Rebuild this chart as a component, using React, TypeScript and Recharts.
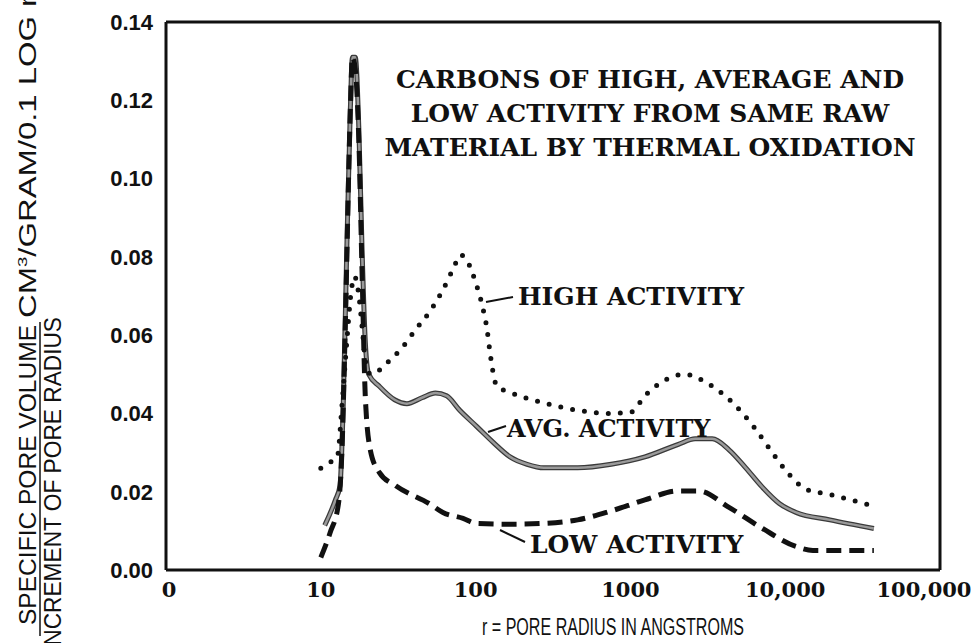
import React from 'react';
import { LineChart, Line, XAxis, YAxis } from 'recharts';

// pore radius (angstroms) and pore volume per 0.1 log r
const highR = [10, 11.5, 12.8, 13.7, 14.7, 15.7, 16.5, 17.5, 18.5, 19.5, 21, 27.6, 33.8, 41.3, 50.5, 61.7, 71.8, 80, 88, 101, 112, 118, 124, 129, 137, 167, 276, 456, 752, 1016, 1240, 1590, 2260, 3055, 4335, 6150, 8320, 10670, 13700, 19450, 35500];
const highV = [0.026, 0.0275, 0.029, 0.042, 0.058, 0.071, 0.075, 0.071, 0.062, 0.053, 0.05, 0.0534, 0.057, 0.0616, 0.066, 0.0717, 0.077, 0.0805, 0.079, 0.073, 0.0665, 0.062, 0.0555, 0.051, 0.047, 0.0454, 0.0427, 0.0408, 0.04, 0.0404, 0.0445, 0.048, 0.05, 0.048, 0.0436, 0.037, 0.0298, 0.0243, 0.0206, 0.0193, 0.0165];

const avgR = [10.6, 12.4, 13.3, 14.0, 14.7, 15.5, 16.0, 16.7, 17.6, 18.5, 19.4, 20.4, 23.8, 30, 36, 45, 55, 65, 79, 101.5, 130, 167, 215, 276, 456, 752, 1240, 2040, 2620, 3380, 4335, 5560, 7140, 9160, 11750, 19450, 37400];
const avgV = [0.0114, 0.0178, 0.0215, 0.044, 0.081, 0.117, 0.131, 0.131, 0.113, 0.081, 0.058, 0.05, 0.047, 0.0435, 0.0425, 0.044, 0.0452, 0.0445, 0.0408, 0.0367, 0.0326, 0.0289, 0.027, 0.0261, 0.0261, 0.027, 0.0289, 0.0321, 0.0335, 0.0335, 0.0307, 0.0261, 0.0211, 0.017, 0.0147, 0.0128, 0.0106];

const lowR = [10, 11.5, 13.0, 13.7, 14.4, 15.5, 16.0, 16.7, 17.6, 18.5, 19.4, 20.9, 23.8, 30.5, 50.5, 61.5, 83, 101, 167, 276, 456, 752, 1240, 2040, 2760, 4335, 7140, 11750, 15100, 37400];
const lowV = [0.0032, 0.0096, 0.0169, 0.0306, 0.0626, 0.117, 0.131, 0.128, 0.11, 0.075, 0.044, 0.0306, 0.025, 0.0215, 0.0169, 0.0147, 0.0132, 0.0119, 0.0117, 0.0119, 0.0128, 0.0151, 0.0179, 0.0202, 0.0202, 0.016, 0.0106, 0.006, 0.005, 0.005];

const xTicks = [1, 10, 100, 1000, 10000, 100000];
const xTickLabels = ['0', '10', '100', '1000', '10,000', '100,000'];
const yTicks = [0, 0.02, 0.04, 0.06, 0.08, 0.1, 0.12, 0.14];

const titleLines = ['CARBONS OF HIGH, AVERAGE AND', 'LOW ACTIVITY FROM SAME RAW', 'MATERIAL BY THERMAL OXIDATION'];

const toRows = (rs: number[], vs: number[]) => rs.map((r, i) => ({ r, v: vs[i] }));
const high = toRows(highR, highV);
const avg = toRows(avgR, avgV);
const low = toRows(lowR, lowV);

const serif = '"DejaVu Serif", serif';
const sans = '"Liberation Sans", Arial, sans-serif';

const XTick = (props: any) => {
  const { x, y, payload } = props;
  const i = xTicks.indexOf(payload.value);
  const shift = i === xTicks.length - 1 ? -16 : i === 0 ? 3 : 0;
  return (
    <text x={x + shift} y={y} dy={21} textAnchor="middle" fontFamily={serif} fontWeight="bold" fontSize={21} fill="#111">
      {xTickLabels[i]}
    </text>
  );
};

const frame = { stroke: '#111', strokeWidth: 3 };
const tickLn = { stroke: '#111', strokeWidth: 2 };

export default function App() {
  return (
    <div style={{ position: 'absolute', left: 0, top: 0, width: 974, height: 643, background: '#fff' }}>
      <LineChart width={974} height={643} data={avg} margin={{ top: 22, right: 34, bottom: 72, left: 165 }}>
        <XAxis xAxisId="b" type="number" scale="log" dataKey="r" domain={[1, 100000]} allowDataOverflow ticks={xTicks}
          height={1} axisLine={frame} tickLine={false} tickSize={0} tickMargin={6} tick={<XTick />} interval={0} />
        <XAxis xAxisId="bt" type="number" scale="log" dataKey="r" domain={[1, 100000]} allowDataOverflow ticks={xTicks}
          height={1} mirror axisLine={false} tickLine={tickLn} tickSize={12} tick={false} interval={0} />
        <XAxis xAxisId="t" orientation="top" type="number" scale="log" dataKey="r" domain={[1, 100000]} allowDataOverflow ticks={xTicks}
          height={1} mirror axisLine={frame} tickLine={tickLn} tickSize={12} tick={false} interval={0} />
        <YAxis yAxisId="l" type="number" domain={[0, 0.14]} ticks={yTicks} width={1} axisLine={frame} tickLine={false}
          tickSize={0} tickMargin={13} interval={0} tickFormatter={(v: number) => v.toFixed(2)}
          tick={{ fontFamily: sans, fontWeight: 'bold', fontSize: 22, fill: '#111' }} />
        <YAxis yAxisId="lt" type="number" domain={[0, 0.14]} ticks={yTicks} width={1} mirror axisLine={false}
          tickLine={tickLn} tickSize={12} tick={false} interval={0} />
        <YAxis yAxisId="r" orientation="right" type="number" domain={[0, 0.14]} ticks={yTicks} width={1} mirror
          axisLine={frame} tickLine={tickLn} tickSize={9} tick={false} interval={0} />
        <Line xAxisId="b" yAxisId="l" data={avg} dataKey="v" type="monotone" stroke="#3a3a3a" strokeWidth={5} dot={false} isAnimationActive={false} />
        <Line xAxisId="b" yAxisId="l" data={avg} dataKey="v" type="monotone" stroke="#9a9a9a" strokeWidth={2.5} dot={false} isAnimationActive={false} />
        <Line xAxisId="b" yAxisId="l" data={low} dataKey="v" type="monotone" stroke="#111" strokeWidth={5} strokeDasharray="15 8" dot={false} isAnimationActive={false} />
        <Line xAxisId="b" yAxisId="l" data={high} dataKey="v" type="monotone" stroke="#111" strokeWidth={5} strokeDasharray="0 12" strokeLinecap="round" dot={false} isAnimationActive={false} />
      </LineChart>
      <svg width={974} height={643} style={{ position: 'absolute', left: 0, top: 0, pointerEvents: 'none' }}>
        {titleLines.map((t, i) => (
          <text key={t} x={650} y={88 + i * 34} textAnchor="middle" fontFamily={serif} fontWeight="bold" fontSize={25} fill="#111">{t}</text>
        ))}
        <line x1={486} y1={302} x2={513} y2={297} stroke="#111" strokeWidth={2} />
        <text x={518} y={305} fontFamily={serif} fontWeight="bold" fontSize={25} fill="#111">HIGH ACTIVITY</text>
        <line x1={488} y1={432} x2={506} y2={426} stroke="#111" strokeWidth={2} />
        <text x={507} y={437} fontFamily={serif} fontWeight="bold" fontSize={24} fill="#111">AVG. ACTIVITY</text>
        <line x1={500} y1={530} x2={525} y2={542} stroke="#111" strokeWidth={2} />
        <text x={530} y={553} fontFamily={serif} fontWeight="bold" fontSize={25} fill="#111">LOW ACTIVITY</text>
        <text x={482} y={635} fontFamily={sans} fontSize={23} fill="#111" textLength={262} lengthAdjust="spacingAndGlyphs">
          r = PORE RADIUS IN ANGSTROMS
        </text>
        <g transform="rotate(-90)">
          <text x={-625} y={36} fontFamily={sans} fontSize={24} fill="#111" textLength={300} lengthAdjust="spacingAndGlyphs">SPECIFIC PORE VOLUME</text>
          <text x={-652} y={61} fontFamily={sans} fontSize={24} fill="#111" textLength={335} lengthAdjust="spacingAndGlyphs">INCREMENT OF PORE RADIUS</text>
          <text x={-318} y={36} fontFamily={sans} fontSize={23} fill="#111" textLength={322} lengthAdjust="spacingAndGlyphs">
            CM<tspan dy={-9} fontSize={13}>3</tspan><tspan dy={9}>/GRAM/0.1 LOG r</tspan>
          </text>
        </g>
        <line x1={40} y1={636} x2={40} y2={322} stroke="#111" strokeWidth={1.5} />
      </svg>
    </div>
  );
}
